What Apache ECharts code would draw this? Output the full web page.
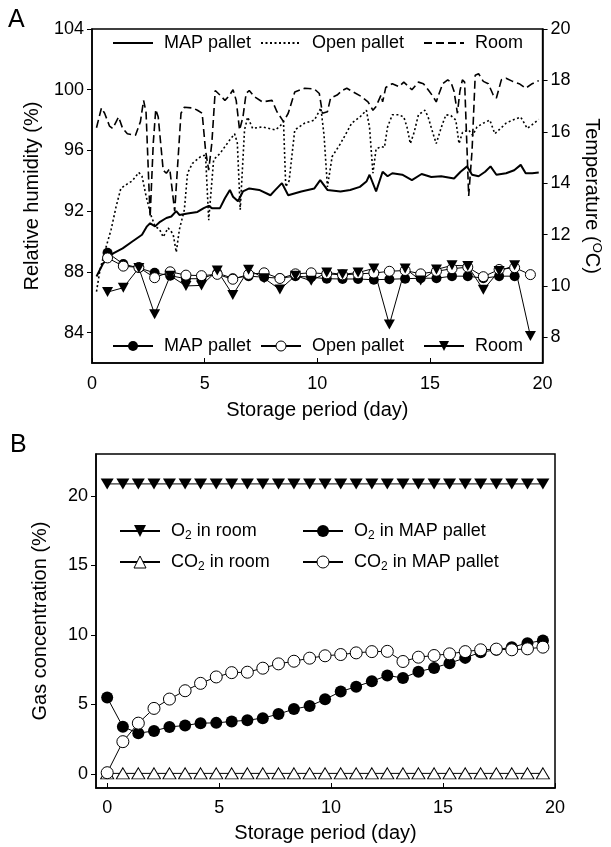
<!DOCTYPE html>
<html>
<head>
<meta charset="utf-8">
<script src="https://cdn.jsdelivr.net/npm/echarts@6/dist/echarts.min.js"></script>
<style>
html,body{margin:0;padding:0;background:#fff}
#main{width:611px;height:847px}
</style>
</head>
<body>
<div id="main"></div>
<script>
// A - relative humidity (left axis), [day, %]
var rhMap = [[0.2,87.7],[0.49,88.55],[0.92,89.2],[1.36,89.55],[1.79,90.0],[2.22,90.45],[2.44,91.0],[2.58,91.2],[2.8,91.0],[3.02,91.3],[3.3,91.55],[3.52,91.65],[3.74,92.0],[3.88,91.75],[4.24,91.85],[4.68,91.95],[4.96,92.2],[5.18,92.35],[5.32,92.2],[5.68,92.2],[5.9,92.85],[6.12,93.4],[6.26,92.95],[6.48,92.65],[6.7,93.3],[6.98,93.5],[7.42,93.4],[7.92,93.05],[8.14,93.4],[8.43,93.85],[8.71,93.05],[9.29,93.3],[9.87,93.5],[10.13,94.05],[10.45,93.4],[11.03,93.3],[11.46,93.4],[11.89,93.6],[12.18,93.95],[12.32,94.4],[12.61,93.3],[12.9,94.6],[13.12,94.3],[13.33,94.5],[13.77,94.4],[14.2,94.05],[14.63,94.45],[15.06,94.25],[15.5,94.3],[16.07,94.15],[16.36,94.6],[16.65,94.95],[16.87,94.4],[17.16,94.3],[17.45,94.6],[17.69,94.95],[17.95,94.4],[18.38,94.5],[18.74,94.7],[19.03,95.05],[19.25,94.5],[19.54,94.5],[19.83,94.55]];
var rhOpen = [[0.2,86.7],[0.35,88.1],[0.56,89.3],[0.85,90.8],[1.07,92.3],[1.28,93.5],[1.57,93.8],[1.79,94.0],[2.08,94.55],[2.22,94.3],[2.4,93.0],[2.6,91.8],[2.8,91.0],[3.0,90.8],[3.16,90.3],[3.38,90.9],[3.6,90.5],[3.74,89.3],[3.88,90.8],[4.1,92.1],[4.24,94.5],[4.46,95.15],[4.82,95.6],[5.04,95.7],[5.18,91.4],[5.4,95.4],[5.68,95.8],[6.12,96.7],[6.33,97.1],[6.45,96.5],[6.58,92.1],[6.77,97.35],[6.91,98.2],[7.13,97.45],[7.56,97.55],[8.14,97.35],[8.35,97.6],[8.5,97.9],[8.6,93.6],[8.75,94.0],[9.0,97.35],[9.44,97.8],[9.87,98.0],[10.16,98.8],[10.3,97.0],[10.45,93.6],[10.66,95.6],[11.03,96.45],[11.53,97.8],[11.89,98.2],[12.18,98.65],[12.32,97.5],[12.47,94.5],[12.61,96.1],[12.83,96.25],[12.98,96.2],[13.12,97.55],[13.33,98.35],[13.62,98.35],[13.84,98.2],[13.98,97.55],[14.13,96.45],[14.3,97.2],[14.49,98.35],[14.78,98.65],[14.92,98.2],[15.14,97.1],[15.28,96.45],[15.5,97.5],[15.71,98.35],[15.93,98.3],[16.15,98.0],[16.29,96.45],[16.45,97.2],[16.72,97.35],[16.9,97.0],[17.09,97.55],[17.37,97.8],[17.66,98.0],[17.88,97.1],[18.1,97.4],[18.38,97.8],[18.67,98.0],[19.03,98.2],[19.32,97.45],[19.54,97.7],[19.83,98.05]];
var rhRoom = [[0.2,97.5],[0.42,98.8],[0.56,98.45],[0.78,97.6],[0.92,97.45],[1.18,98.2],[1.36,97.45],[1.57,97.1],[1.93,97.0],[2.15,97.9],[2.29,99.3],[2.4,98.5],[2.58,91.6],[2.72,96.5],[2.83,98.7],[2.94,98.2],[3.16,94.7],[3.3,94.5],[3.45,94.8],[3.67,92.0],[3.95,98.45],[4.1,98.85],[4.46,98.8],[4.68,98.65],[4.89,98.45],[5.04,96.0],[5.18,94.7],[5.32,96.5],[5.47,99.95],[5.68,99.65],[5.9,99.3],[6.09,99.6],[6.26,100.0],[6.4,99.3],[6.55,97.35],[6.7,98.2],[6.84,99.75],[6.98,99.95],[7.2,99.55],[7.56,99.2],[7.99,99.3],[8.21,98.55],[8.5,97.9],[8.71,98.45],[9.0,99.85],[9.44,100.1],[9.87,100.05],[10.09,99.75],[10.23,98.45],[10.45,98.55],[10.59,99.45],[10.88,99.65],[11.1,99.95],[11.31,100.1],[11.6,99.85],[11.96,99.55],[12.25,99.2],[12.47,98.65],[12.61,98.9],[12.83,99.65],[12.9,99.2],[13.04,100.15],[13.33,100.4],[13.62,100.2],[13.84,100.5],[14.06,100.2],[14.2,100.0],[14.49,100.5],[14.71,100.4],[14.92,100.0],[15.14,99.55],[15.28,99.2],[15.42,99.8],[15.57,100.4],[15.79,100.65],[15.93,100.5],[16.07,99.9],[16.22,98.45],[16.33,99.9],[16.44,100.65],[16.54,100.5],[16.72,93.0],[16.87,96.0],[17.01,100.95],[17.16,101.05],[17.37,100.55],[17.59,100.4],[17.81,99.65],[17.95,99.45],[18.17,100.65],[18.38,100.75],[18.67,100.55],[18.96,100.4],[19.25,100.1],[19.54,100.4],[19.83,100.6]];

// A - temperature (right axis)
var tDays = [0.69,1.39,2.08,2.78,3.47,4.17,4.86,5.56,6.25,6.95,7.64,8.34,9.03,9.73,10.42,11.12,11.81,12.51,13.2,13.9,14.59,15.29,15.98,16.68,17.37,18.07,18.76,19.46];
var tMap = [11.29,10.85,10.7,10.51,10.4,10.28,10.28,10.5,10.3,10.38,10.34,10.3,10.38,10.34,10.28,10.27,10.27,10.24,10.26,10.28,10.3,10.3,10.38,10.38,10.3,10.38,10.38,null];
var tOpen = [11.09,10.77,10.72,10.32,10.55,10.42,10.4,10.45,10.26,10.45,10.51,10.29,10.47,10.51,10.47,10.43,10.47,10.5,10.57,10.6,10.47,10.57,10.67,10.73,10.36,10.64,10.71,10.44];
var tRoom = [9.76,9.93,10.7,8.9,10.4,10.0,10.02,10.6,9.65,10.63,10.3,9.86,10.4,10.2,10.52,10.45,10.52,10.68,8.5,10.68,10.21,10.64,10.8,10.78,9.85,10.58,10.8,8.05];

// B - gas concentration
var gDays = [0,0.7,1.39,2.09,2.78,3.48,4.17,4.87,5.56,6.26,6.95,7.65,8.34,9.04,9.73,10.43,11.12,11.82,12.51,13.21,13.9,14.6,15.29,15.99,16.68,17.38,18.07,18.77,19.46];
var o2Room = [20.85,20.85,20.85,20.85,20.85,20.85,20.85,20.85,20.85,20.85,20.85,20.85,20.85,20.85,20.85,20.85,20.85,20.85,20.85,20.85,20.85,20.85,20.85,20.85,20.85,20.85,20.85,20.85,20.85];
var o2Map = [5.5,3.4,2.94,3.1,3.39,3.49,3.66,3.68,3.78,3.87,4.02,4.31,4.67,4.89,5.37,5.93,6.28,6.67,7.08,6.91,7.36,7.63,7.97,8.35,8.76,8.93,9.12,9.41,9.6];
var co2Room = [0.05,0.05,0.05,0.05,0.05,0.05,0.05,0.05,0.05,0.05,0.05,0.05,0.05,0.05,0.05,0.05,0.05,0.05,0.05,0.05,0.05,0.05,0.05,0.05,0.05,0.05,0.05,0.05,0.05];
var co2Map = [0.1,2.33,3.66,4.72,5.39,5.99,6.52,6.98,7.29,7.32,7.61,7.92,8.11,8.33,8.5,8.59,8.71,8.8,8.82,8.09,8.4,8.52,8.64,8.8,8.93,8.98,8.93,9.0,9.12];

var labels = {
  rhMap:'MAP pallet', rhOpen:'Open pallet', rhRoom:'Room',
  tMap:'MAP pallet', tOpen:'Open pallet', tRoom:'Room',
  o2Room:'O{sub|2} in room', o2Map:'O{sub|2} in MAP pallet',
  co2Room:'CO{sub|2} in room', co2Map:'CO{sub|2} in MAP pallet'
};

var font = 'Arial, "Liberation Sans", sans-serif';
var filled = {color: '#000', borderColor: '#000', borderWidth: 0};
var hollow = {color: '#fff', borderColor: '#000', borderWidth: 1};

function pair(xs, ys) {
  var out = [];
  for (var i = 0; i < xs.length; i++) {
    out.push([xs[i], ys[i] == null ? '-' : ys[i]]);
  }
  return out;
}

// one legend per item so each sits where the original has it
function legendAt(name, left, cy, h, style) {
  return {
    data: [{name: name, itemStyle: style ? style : {opacity: 0}}],
    left: left, top: cy - 11, padding: 0,
    itemWidth: 40, itemHeight: h, itemGap: 0,
    formatter: function (n) { return labels[n]; },
    textStyle: {
      fontSize: 18, fontFamily: font, color: '#000', lineHeight: 22, padding: [0, 0, 0, 6],
      rich: {sub: {fontSize: 12, fontFamily: font, color: '#000', verticalAlign: 'bottom', padding: [8, 0, 0, 0]}}
    }
  };
}

var nameTxt = {color: '#000', fontSize: 20, fontFamily: font};
var blackLine = {onZero: false, lineStyle: {color: '#000', width: 1.5}};

var mychart = echarts.init(document.getElementById('main'));
var option = {
  animation: false,
  backgroundColor: '#fff',
  title: [
    {text: 'A', left: 3, top: 3, padding: 5, textStyle: {fontSize: 25, fontWeight: 'normal', color: '#000', fontFamily: font}},
    {text: 'B', left: 5, top: 428, padding: 5, textStyle: {fontSize: 25, fontWeight: 'normal', color: '#000', fontFamily: font}}
  ],
  grid: [
    {left: 92, top: 29, width: 462, height: 334, show: true, borderColor: '#000', borderWidth: 1.5},
    {left: 96, top: 454, width: 459, height: 334, show: true, borderColor: '#000', borderWidth: 1.5}
  ],
  legend: [
    legendAt('rhMap', 112, 43, 14),
    legendAt('rhOpen', 260, 43, 14),
    legendAt('rhRoom', 423, 43, 14),
    legendAt('tMap', 112, 346, 12.5, filled),
    legendAt('tOpen', 260, 346, 12.5, hollow),
    legendAt('tRoom', 423, 346, 12.5, filled),
    legendAt('o2Room', 119, 531, 15, filled),
    legendAt('co2Room', 119, 562, 15, hollow),
    legendAt('o2Map', 302, 531, 15, filled),
    legendAt('co2Map', 302, 562, 15, hollow)
  ],
  xAxis: [
    {gridIndex: 0, type: 'value', min: 0, max: 20, interval: 5,
     axisLine: blackLine, axisTick: {inside: true, length: 5, lineStyle: {color: '#000'}},
     axisLabel: {margin: 12, color: '#000', fontSize: 18, fontFamily: font}, splitLine: {show: false},
     name: 'Storage period (day)', nameLocation: 'middle', nameGap: 37, nameTextStyle: nameTxt},
    {gridIndex: 1, type: 'value', min: -0.5, max: 20,
     axisLine: blackLine, axisTick: {inside: true, length: 5, lineStyle: {color: '#000'}, customValues: [0, 5, 10, 15, 20]},
     axisLabel: {margin: 11, color: '#000', fontSize: 18, fontFamily: font, customValues: [0, 5, 10, 15, 20]}, splitLine: {show: false},
     name: 'Storage period (day)', nameLocation: 'middle', nameGap: 35, nameTextStyle: nameTxt}
  ],
  yAxis: [
    {gridIndex: 0, type: 'value', min: 82, max: 104, position: 'left',
     axisLine: blackLine, axisTick: {length: 5, lineStyle: {color: '#000'}, customValues: [84, 88, 92, 96, 100, 104]},
     axisLabel: {margin: 8, color: '#000', fontSize: 18, fontFamily: font, customValues: [84, 88, 92, 96, 100, 104]}, splitLine: {show: false},
     name: 'Relative humidity (%)', nameLocation: 'middle', nameGap: 50, nameTextStyle: nameTxt},
    {gridIndex: 0, type: 'value', min: 7, max: 20, position: 'right',
     axisLine: blackLine, axisTick: {length: 5, lineStyle: {color: '#000'}, customValues: [8, 10, 12, 14, 16, 18, 20]},
     axisLabel: {margin: 8, color: '#000', fontSize: 18, fontFamily: font, customValues: [8, 10, 12, 14, 16, 18, 20]}, splitLine: {show: false},
     name: 'Temperature ({sup|O}C)', nameLocation: 'middle', nameRotate: -90, nameGap: 30,
     nameTextStyle: {color: '#000', fontSize: 20, fontFamily: font, rich: {sup: {fontSize: 13, color: '#000', fontFamily: font, padding: [0, 0, 10, 0]}}}},
    {gridIndex: 1, type: 'value', min: -1, max: 23,
     axisLine: blackLine, axisTick: {length: 5, lineStyle: {color: '#000'}, customValues: [0, 5, 10, 15, 20]},
     axisLabel: {margin: 8, color: '#000', fontSize: 18, fontFamily: font, customValues: [0, 5, 10, 15, 20]}, splitLine: {show: false},
     name: 'Gas concentration (%)', nameLocation: 'middle', nameGap: 46, nameTextStyle: nameTxt}
  ],
  series: [
    {name: 'rhMap', type: 'line', xAxisIndex: 0, yAxisIndex: 0, data: rhMap, showSymbol: false,
     itemStyle: {color: '#000'}, lineStyle: {color: '#000', width: 2}},
    {name: 'rhOpen', type: 'line', xAxisIndex: 0, yAxisIndex: 0, data: rhOpen, showSymbol: false,
     itemStyle: {color: '#000'}, lineStyle: {color: '#000', width: 1.6, type: [2, 2.5]}},
    {name: 'rhRoom', type: 'line', xAxisIndex: 0, yAxisIndex: 0, data: rhRoom, showSymbol: false,
     itemStyle: {color: '#000'}, lineStyle: {color: '#000', width: 1.6, type: [8, 4]}},

    {name: 'tMap', type: 'line', xAxisIndex: 0, yAxisIndex: 1, data: pair(tDays, tMap),
     symbol: 'circle', symbolSize: 10, itemStyle: filled, lineStyle: {color: '#000', width: 1}},
    {name: 'tOpen', type: 'line', xAxisIndex: 0, yAxisIndex: 1, data: pair(tDays, tOpen),
     symbol: 'circle', symbolSize: 10, itemStyle: hollow, lineStyle: {color: '#000', width: 1}},
    {name: 'tRoom', type: 'line', xAxisIndex: 0, yAxisIndex: 1, data: pair(tDays, tRoom),
     symbol: 'triangle', symbolRotate: 180, symbolSize: [11, 10], itemStyle: filled, lineStyle: {color: '#000', width: 1}},

    {name: 'o2Room', type: 'line', xAxisIndex: 1, yAxisIndex: 2, data: pair(gDays, o2Room),
     symbol: 'triangle', symbolRotate: 180, symbolSize: [13, 11], itemStyle: filled, lineStyle: {color: '#000', width: 1}},
    {name: 'o2Map', type: 'line', xAxisIndex: 1, yAxisIndex: 2, data: pair(gDays, o2Map),
     symbol: 'circle', symbolSize: 12, itemStyle: filled, lineStyle: {color: '#000', width: 1}},
    {name: 'co2Room', type: 'line', xAxisIndex: 1, yAxisIndex: 2, data: pair(gDays, co2Room),
     symbol: 'triangle', symbolSize: [13, 11], itemStyle: hollow, lineStyle: {color: '#000', width: 1}},
    {name: 'co2Map', type: 'line', xAxisIndex: 1, yAxisIndex: 2, data: pair(gDays, co2Map),
     symbol: 'circle', symbolSize: 12, itemStyle: hollow, lineStyle: {color: '#000', width: 1}}
  ]
};
mychart.setOption(option);
</script>
</body>
</html>
